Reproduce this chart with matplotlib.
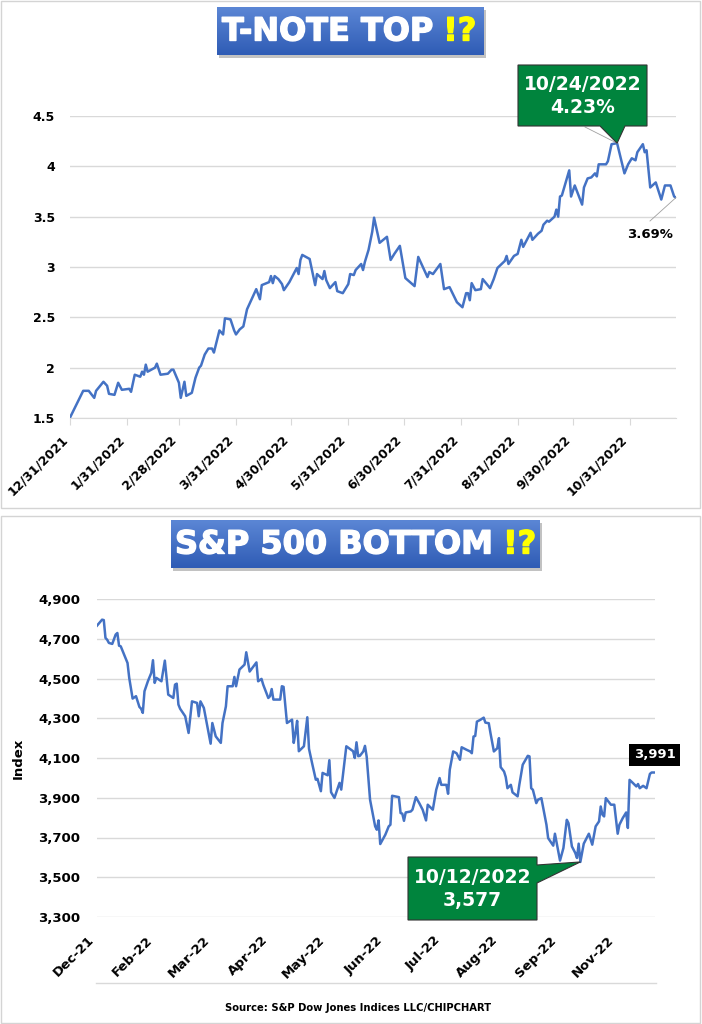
import numpy as np
import pandas as pd
import matplotlib
matplotlib.use('Agg')
import matplotlib.pyplot as plt
import matplotlib.patheffects as pe
from matplotlib.patches import Rectangle, Polygon
from matplotlib.colors import LinearSegmentedColormap

W, H = 702, 1024
BLUE = '#4472C4'
GRID = '#d9d9d9'
GREEN = '#00843d'
start = pd.Timestamp('2021-12-31')

# 10-year T-note yield (%), days counted from 12/31/2021
tnote_days = [0, 7, 10, 13, 14, 18, 20, 21, 24, 26, 28, 32, 33, 35, 38, 39, 40, 41, 42, 46,
              47, 49, 53, 55, 56, 59, 60, 62, 63, 66, 68, 70, 71, 73, 75, 77, 78, 81, 83, 84,
              87, 89, 90, 92, 94, 96, 99, 101, 103, 104, 108, 109, 110, 111, 113, 115, 116, 119, 121, 123,
              124, 125, 126, 130, 133, 134, 137, 138, 139, 141, 144, 145, 148, 151, 152, 154, 155, 158, 159, 160,
              162, 164, 165, 168, 172, 174, 176, 179, 182, 187, 189, 194, 195, 197, 201, 203, 206, 210, 213, 215,
              216, 217, 218, 220, 223, 224, 228, 230, 232, 236, 237, 238, 241, 243, 245, 246, 250, 251, 254, 256,
              257, 259, 260, 263, 264, 265, 266, 267, 271, 272, 274, 278, 279, 281, 283, 285, 286, 287, 291, 292,
              294, 297, 301, 303, 305, 307, 308, 311, 312, 313, 315, 318, 321, 323, 326, 328, 329]
tnote_yield = [1.51, 1.77, 1.77, 1.70, 1.77, 1.86, 1.82, 1.74, 1.73, 1.85, 1.78, 1.79, 1.76, 1.93, 1.91, 1.96, 1.93, 2.03, 1.96, 2.00,
               2.04, 1.93, 1.94, 1.98, 1.98, 1.85, 1.70, 1.86, 1.72, 1.75, 1.90, 2.00, 2.02, 2.13, 2.19, 2.19, 2.15, 2.37, 2.33, 2.49,
               2.48, 2.37, 2.33, 2.38, 2.41, 2.58, 2.70, 2.78, 2.68, 2.82, 2.85, 2.91, 2.84, 2.91, 2.88, 2.83, 2.77, 2.85, 2.92, 2.99,
               2.93, 3.07, 3.12, 3.08, 2.82, 2.93, 2.88, 2.96, 2.87, 2.79, 2.85, 2.76, 2.74, 2.83, 2.93, 2.92, 2.97, 3.03, 2.97, 3.05,
               3.17, 3.35, 3.49, 3.24, 3.30, 3.07, 3.13, 3.21, 2.89, 2.81, 3.10, 2.90, 2.95, 2.93, 3.03, 2.78, 2.80, 2.65, 2.60, 2.74,
               2.74, 2.67, 2.84, 2.77, 2.78, 2.88, 2.79, 2.88, 2.99, 3.06, 3.11, 3.03, 3.11, 3.13, 3.27, 3.20, 3.34, 3.27, 3.33, 3.36,
               3.42, 3.46, 3.45, 3.50, 3.57, 3.50, 3.70, 3.71, 3.96, 3.70, 3.81, 3.62, 3.79, 3.88, 3.89, 3.93, 3.90, 4.02, 4.02, 4.05,
               4.22, 4.23, 3.93, 4.02, 4.08, 4.06, 4.14, 4.22, 4.14, 4.16, 3.79, 3.84, 3.67, 3.81, 3.81, 3.70, 3.69]

# S&P 500 index close, days counted from 12/31/2021
spx_days = [0, 3, 4, 5, 6, 7, 9, 11, 12, 13, 14, 18, 19, 21, 23, 25, 26, 27, 28, 30,
            32, 33, 34, 35, 38, 40, 42, 45, 46, 47, 48, 49, 52, 54, 56, 59, 60, 61, 63, 67,
            68, 70, 73, 74, 76, 77, 80, 81, 82, 84, 87, 88, 90, 94, 95, 97, 98, 101, 102, 103,
            104, 108, 109, 110, 112, 115, 116, 117, 118, 119, 122, 124, 125, 127, 129, 130, 132, 133, 136, 137,
            138, 140, 143, 144, 147, 151, 152, 153, 154, 155, 157, 158, 159, 161, 164, 165, 166, 167, 170, 172,
            173, 174, 178, 179, 180, 181, 182, 185, 186, 188, 190, 192, 194, 195, 198, 200, 202, 203, 206, 207,
            208, 210, 212, 214, 215, 218, 220, 221, 222, 223, 224, 226, 228, 229, 231, 232, 234, 236, 237, 238,
            240, 241, 242, 244, 245, 248, 249, 251, 254, 255, 256, 257, 259, 260, 262, 265, 266, 269, 270, 273,
            275, 277, 278, 280, 282, 283, 284, 285, 287, 290, 292, 294, 296, 297, 298, 299, 300, 303, 305, 307,
            308, 310, 312, 313, 314, 316, 318, 319, 320, 322, 324, 326, 327, 329]
spx_close = [4766, 4796, 4794, 4704, 4695, 4679, 4674, 4721, 4729, 4665, 4662, 4578, 4503, 4399, 4411, 4357, 4348, 4327, 4436, 4486,
             4528, 4592, 4478, 4503, 4486, 4590, 4419, 4402, 4469, 4474, 4369, 4348, 4310, 4226, 4385, 4377, 4310, 4385, 4352, 4172,
             4276, 4209, 4176, 4276, 4360, 4461, 4461, 4508, 4461, 4545, 4570, 4632, 4535, 4581, 4486, 4498, 4469, 4402, 4411, 4447,
             4394, 4394, 4461, 4458, 4276, 4293, 4176, 4226, 4287, 4134, 4159, 4305, 4146, 4067, 3991, 3995, 3933, 4025, 4013, 4089,
             3928, 3899, 3975, 3941, 4159, 4134, 4100, 4179, 4109, 4111, 4133, 4161, 4107, 3890, 3756, 3739, 3786, 3667, 3714, 3756,
             3764, 3910, 3903, 3823, 3820, 3784, 3826, 3831, 3840, 3903, 3873, 3840, 3786, 3865, 3840, 3940, 3999, 3965, 3965, 3920,
             4041, 4133, 4124, 4091, 4154, 4141, 4133, 4124, 4208, 4211, 4283, 4292, 4303, 4278, 4275, 4225, 4133, 4149, 4200, 4054,
             4032, 4004, 3948, 3965, 3927, 3907, 3965, 4066, 4111, 4108, 3948, 3940, 3873, 3890, 3898, 3764, 3697, 3659, 3719, 3584,
             3647, 3789, 3772, 3655, 3622, 3597, 3669, 3577, 3669, 3719, 3664, 3756, 3781, 3856, 3815, 3806, 3898, 3865, 3865, 3719,
             3764, 3798, 3826, 3748, 3990, 3974, 3957, 3969, 3948, 3960, 3948, 4020, 4027, 4027]

tnote_ticks = ['2021-12-31', '2022-01-31', '2022-02-28', '2022-03-31', '2022-04-30', '2022-05-31',
               '2022-06-30', '2022-07-31', '2022-08-31', '2022-09-30', '2022-10-31']
spx_tick_days = [0, 34, 68, 102, 136, 170, 204, 238, 272, 306]

tnote_dates = start + pd.to_timedelta(tnote_days, unit='D')
spx_dates = start + pd.to_timedelta(spx_days, unit='D')

plt.rcParams['font.family'] = ['DejaVu Sans']
fig = plt.figure(figsize=(W / 100, H / 100), dpi=100)


def box(x0, y0, x1, y1):
    return [x0 / W, 1 - y1 / H, (x1 - x0) / W, (y1 - y0) / H]


# ---- T-note chart
ax1 = fig.add_axes(box(70.3, 116, 676, 418))
ax1.plot(tnote_dates, tnote_yield, color=BLUE, lw=1.8, solid_joinstyle='round')
ax1.set_xlim(tnote_dates[0], tnote_dates[-1])
ax1.set_ylim(1.5, 4.5)
yt = np.arange(1.5, 4.51, 0.5)
ax1.set_yticks(yt)
ax1.set_yticklabels([f'{v:g}' for v in yt], fontsize=9, fontweight='bold')
xt = pd.to_datetime(tnote_ticks)
ax1.set_xticks(xt)
ax1.set_xticklabels([f'{d.month}/{d.day}/{d.year}' for d in xt], rotation=45, ha='right',
                    fontsize=9, fontweight='bold')
ax1.grid(axis='y', color=GRID, lw=1)
ax1.tick_params(axis='y', length=0, pad=11)
ax1.tick_params(axis='x', length=5, color=GRID, pad=6)
for s in ['top', 'right', 'left']:
    ax1.spines[s].set_visible(False)
ax1.spines['bottom'].set_color(GRID)

# ---- S&P 500 chart
ax2 = fig.add_axes(box(97, 599, 655, 917))
ax2.plot(spx_dates, spx_close, color=BLUE, lw=1.8, solid_joinstyle='round')
ax2.set_xlim(spx_dates[0], spx_dates[-1])
ax2.set_ylim(3300, 4900)
yt2 = np.arange(3300, 4901, 200)
ax2.set_yticks(yt2)
ax2.set_yticklabels([f'{v:,}' for v in yt2], fontsize=9.5, fontweight='bold')
xt2 = start + pd.to_timedelta(spx_tick_days, unit='D')
ax2.set_xticks(xt2)
ax2.set_xticklabels([d.strftime('%b-%y') for d in xt2], rotation=45, ha='right',
                    fontsize=9.5, fontweight='bold')
ax2.grid(axis='y', color=GRID, lw=1)
ax2.tick_params(axis='y', length=0, pad=12)
ax2.tick_params(axis='x', length=0, pad=12)
for s in ax2.spines.values():
    s.set_visible(False)
ax2.set_ylabel('Index', fontsize=9.5, fontweight='bold')
ax2.yaxis.set_label_coords((25 - 97) / 558, 0.5)

# ---- overlay in pixel coordinates
ov = fig.add_axes([0, 0, 1, 1], zorder=5)
ov.patch.set_alpha(0)
ov.axis('off')

ov.add_patch(Rectangle((0.5, 0.5), 699.5, 507, fill=False, ec='#d4d4d4', lw=1))
ov.add_patch(Rectangle((0.5, 515.5), 699.5, 507, fill=False, ec='#d4d4d4', lw=1))
ov.plot([96, 656], [983, 983], color=GRID, lw=1)

cmap = LinearSegmentedColormap.from_list('bl', ['#5b86d5', '#2f5cb5'])
grad = np.linspace(0, 1, 64).reshape(-1, 1)


def title_box(x0, y0, x1, y1, label, tx):
    ov.add_patch(Rectangle((x0 + 2, y0 + 3), x1 - x0, y1 - y0, fc='#9a9a9a', ec='none', alpha=0.6))
    ov.imshow(grad, cmap=cmap, extent=(x0, x1, y1, y0), aspect='auto', zorder=2)
    t = ov.text(tx, (y0 + y1) / 2 + 1, label, color='white', fontsize=23, fontweight='bold',
                ha='left', va='center', zorder=3,
                path_effects=[pe.withStroke(linewidth=1.0, foreground='white')])
    ov.annotate('!?', xy=(1, 0), xycoords=t, xytext=(7, 0), textcoords='offset points',
                color='#ffff00', fontsize=23, fontweight='bold',
                ha='left', va='bottom', zorder=3,
                path_effects=[pe.withStroke(linewidth=1.0, foreground='#ffff00')])


title_box(217, 7, 484, 55, 'T-NOTE TOP', 222)
title_box(171, 520, 540, 568, 'S&P 500 BOTTOM', 175)


def to_px(ax, x, y):
    px, py = ax.transData.transform((matplotlib.dates.date2num(x), y))
    return px, H - py


# T-note peak callout
ip = int(np.argmax(tnote_yield))
tx, ty = to_px(ax1, tnote_dates[ip], tnote_yield[ip])
ov.plot([585, tx], [127, ty], color='#a0a0a0', lw=0.6, zorder=3)
ov.add_patch(Polygon([(518, 65), (647, 65), (647, 126), (625, 126), (tx, ty), (600, 126), (518, 126)],
                     closed=True, fc=GREEN, ec='#333333', lw=0.8, zorder=4))
ov.text(582.5, 96, f'{tnote_dates[ip].month}/{tnote_dates[ip].day}/{tnote_dates[ip].year}\n{tnote_yield[ip]:.2f}%',
        color='white', fontsize=13.5, fontweight='bold', ha='center', va='center',
        linespacing=1.25, zorder=5)

# T-note last value
lx, ly = to_px(ax1, tnote_dates[-1], tnote_yield[-1])
ov.plot([650, lx], [221, ly], color='#a0a0a0', lw=0.6, zorder=3)
ov.text(650, 235, f'{tnote_yield[-1]:.2f}%', color='black', fontsize=9.5, fontweight='bold',
        ha='center', va='center', zorder=5)

# S&P low callout
im = int(np.argmin(spx_close))
mx, my = to_px(ax2, spx_dates[im], spx_close[im])
ov.add_patch(Polygon([(408, 857), (537, 857), (537, 865), (mx, my), (537, 883), (537, 920), (408, 920)],
                     closed=True, fc=GREEN, ec='#333333', lw=0.8, zorder=4))
ov.text(472.5, 889, f'{spx_dates[im].month}/{spx_dates[im].day}/{spx_dates[im].year}\n{spx_close[im]:,}',
        color='white', fontsize=13.5, fontweight='bold', ha='center', va='center',
        linespacing=1.25, zorder=5)

# S&P last label
ov.text(654.5, 755, '3,991', color='white', fontsize=9.5, fontweight='bold', ha='center', va='center',
        bbox=dict(boxstyle='square,pad=0.35', fc='black', ec='none'), zorder=5)

ov.text(358, 1008, 'Source: S&P Dow Jones Indices LLC/CHIPCHART', fontsize=8, fontweight='bold',
        fontstretch='condensed', ha='center', va='center', zorder=5)

ov.set_xlim(0, W)
ov.set_ylim(H, 0)

fig.savefig('out.png', dpi=100)
